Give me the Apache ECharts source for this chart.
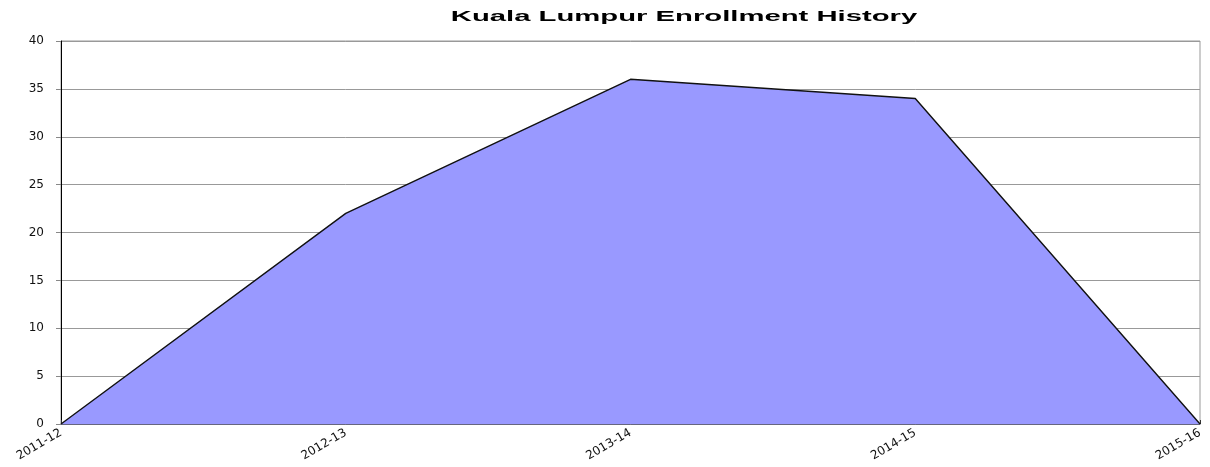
<!DOCTYPE html>
<html>
<head>
<meta charset="utf-8">
<script src="https://cdn.jsdelivr.net/npm/echarts@6/dist/echarts.min.js"></script>
<style>
  html, body { margin: 0; padding: 0; background: #fff; }
  #chart { width: 1210px; height: 467px; }
</style>
</head>
<body>
<div id="chart"></div>
<script>
// school years on the x axis
const years = ["2011-12", "2012-13", "2013-14", "2014-15", "2015-16"];
// enrollment per year
const enrollment = [0, 22, 36, 34, 0];
const chartTitle = "Kuala Lumpur Enrollment History";

const chart = echarts.init(document.getElementById("chart"), null, { renderer: "canvas" });

chart.setOption({
  animation: false,
  // title drawn as graphic text so it can be stretched wide like the original
  graphic: [
    {
      type: "text",
      x: 684,
      y: 17,
      scaleX: 1.95,
      style: {
        text: chartTitle,
        font: "bold 15px 'Liberation Sans', Arial, sans-serif",
        fill: "#000",
        textAlign: "center",
        textVerticalAlign: "middle",
      },
    },
  ],
  grid: {
    left: 61,
    right: 10,
    top: 41,
    bottom: 43,
    show: true,
    borderColor: "#999",
    borderWidth: 1,
  },
  xAxis: {
    type: "category",
    data: years,
    boundaryGap: false,
    axisLine: { show: true, lineStyle: { color: "#666680", width: 1 } },
    axisTick: { show: true, inside: true, length: 4, lineStyle: { color: "#333" } },
    axisLabel: {
      rotate: 30,
      fontFamily: "DejaVu Sans, sans-serif",
      fontSize: 12,
      color: "#111",
      margin: 8,
    },
  },
  yAxis: {
    type: "value",
    min: 0,
    max: 40,
    interval: 5,
    axisLine: { show: true, lineStyle: { color: "#000", width: 1 } },
    axisTick: { show: true, length: 5, lineStyle: { color: "#888" } },
    splitLine: { lineStyle: { color: "#999", width: 1 } },
    axisLabel: {
      fontFamily: "DejaVu Sans, sans-serif",
      fontSize: 12,
      color: "#111",
      margin: 17,
    },
  },
  series: [
    {
      type: "line",
      data: enrollment,
      symbol: "none",
      lineStyle: { color: "#111", width: 1.4 },
      areaStyle: { color: "#9999FF", opacity: 1 },
    },
  ],
});
</script>
</body>
</html>
